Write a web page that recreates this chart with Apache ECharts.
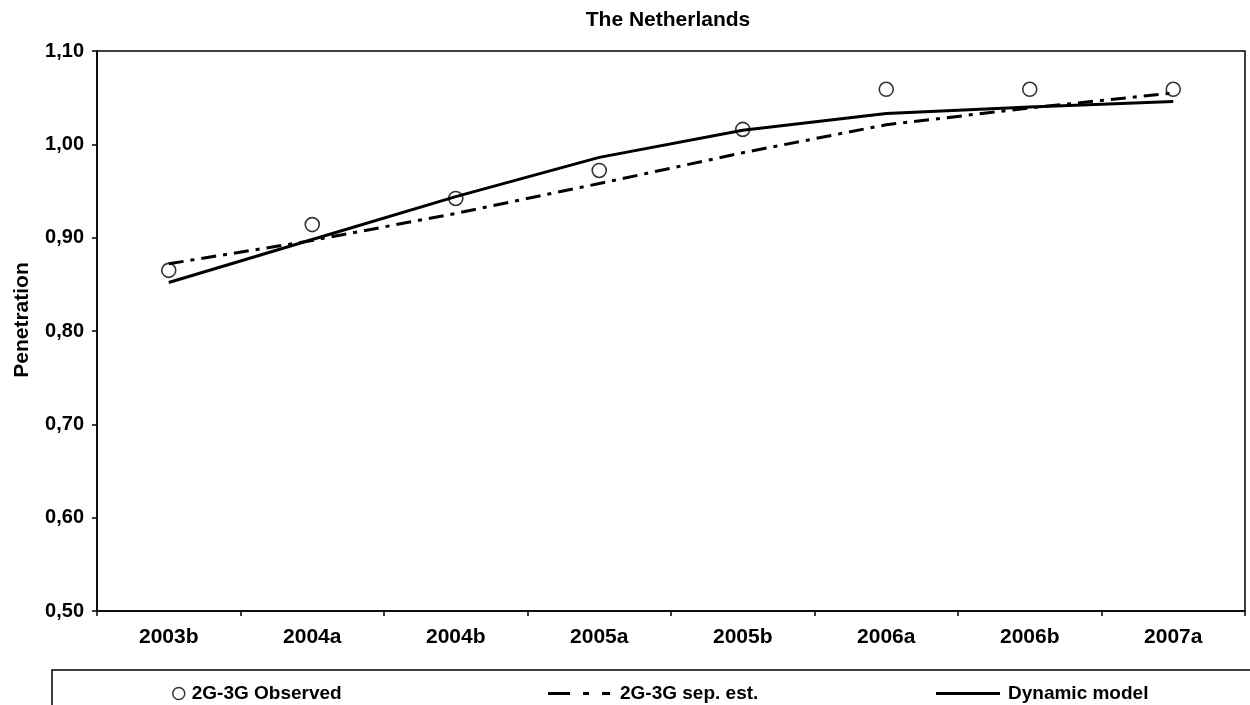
<!DOCTYPE html>
<html><head><meta charset="utf-8">
<script src="https://cdn.jsdelivr.net/npm/echarts@6/dist/echarts.min.js"></script>
<style>html,body{margin:0;padding:0;background:#fff}#c{width:1250px;height:705px}</style>
</head><body><div id="c"></div>
<script>
var categories = ['2003b','2004a','2004b','2005a','2005b','2006a','2006b','2007a'];
var observed = [0.865, 0.914, 0.942, 0.972, 1.016, 1.059, 1.059, 1.059];
var sepEst = [0.872, 0.897, 0.926, 0.958, 0.991, 1.021, 1.039, 1.055];
var dynamicModel = [0.852, 0.898, 0.944, 0.986, 1.015, 1.033, 1.040, 1.046];
var yTicks = {min: 0.5, max: 1.1, interval: 0.1};

var FONT = '"Liberation Sans", Arial, sans-serif';
var chart = echarts.init(document.getElementById('c'), null, {renderer: 'canvas'});
var legendText = {color: '#000', fontFamily: FONT, fontWeight: 'bold', fontSize: 19};
chart.setOption({
  animation: false,
  backgroundColor: '#fff',
  title: {text: 'The Netherlands', left: 663, top: 5, textAlign: 'center',
    textStyle: {fontFamily: FONT, fontWeight: 'bold', fontSize: 21, color: '#000'}},
  grid: {left: 97, right: 5, top: 51, bottom: 94, show: true, borderColor: '#000', borderWidth: 1.5, backgroundColor: 'transparent'},
  xAxis: {type: 'category', data: categories, boundaryGap: true,
    axisLine: {lineStyle: {color: '#000', width: 1.5}},
    axisTick: {show: true, length: 5, lineStyle: {color: '#000', width: 1.5}},
    axisLabel: {color: '#000', fontFamily: FONT, fontWeight: 'bold', fontSize: 21, margin: 16},
    splitLine: {show: false}},
  yAxis: {type: 'value', min: yTicks.min, max: yTicks.max, interval: yTicks.interval,
    name: 'Penetration', nameLocation: 'middle', nameGap: 64, nameRotate: 90,
    nameTextStyle: {color: '#000', fontFamily: FONT, fontWeight: 'bold', fontSize: 21, padding: [0, 0, 0, 22]},
    axisLine: {show: true, lineStyle: {color: '#000', width: 1.5}},
    axisTick: {show: true, length: 5, lineStyle: {color: '#000', width: 1.5}},
    axisLabel: {color: '#000', fontFamily: FONT, fontWeight: 'bold', fontSize: 20, margin: 13,
      formatter: function (v) { return v.toFixed(2).replace('.', ','); }},
    splitLine: {show: false}},
  legend: [
    {data: [{name: '2G-3G Observed', icon: 'circle', itemStyle: {color: '#fff', borderColor: '#000', borderWidth: 1.5}}],
      left: 167, top: 679, itemWidth: 12, itemHeight: 12,
      textStyle: Object.assign({padding: [0, 0, 0, 2]}, legendText)},
    {data: [{name: '2G-3G sep. est.', icon: 'path://M0,0H22V3H0Z M35,0H41V3H35Z M54,0H62V3H54Z', itemStyle: {color: '#000'}}],
      left: 543, top: 679, itemWidth: 62, itemHeight: 3, symbolKeepAspect: false,
      textStyle: Object.assign({padding: [0, 0, 0, 5]}, legendText)},
    {data: [{name: 'Dynamic model', icon: 'path://M0,0H64V3H0Z', itemStyle: {color: '#000'}}],
      left: 931, top: 679, itemWidth: 64, itemHeight: 3, symbolKeepAspect: false,
      textStyle: Object.assign({padding: [0, 0, 0, 3]}, legendText)}
  ],
  graphic: [{type: 'rect', shape: {x: 52, y: 670, width: 1250, height: 60},
    style: {fill: 'none', stroke: '#000', lineWidth: 1.5}, z: -1}],
  series: [
    {name: '2G-3G sep. est.', type: 'line', data: sepEst, showSymbol: false, symbol: 'none', smooth: false,
      lineStyle: {color: '#000', width: 3, type: [15, 7, 4, 7]}, itemStyle: {color: '#000'}, z: 2},
    {name: 'Dynamic model', type: 'line', data: dynamicModel, showSymbol: false, symbol: 'none', smooth: false,
      lineStyle: {color: '#000', width: 3}, itemStyle: {color: '#000'}, z: 3},
    {name: '2G-3G Observed', type: 'scatter', data: observed, symbol: 'circle', symbolSize: 14,
      itemStyle: {color: 'rgba(255,255,255,0)', borderColor: '#000', borderWidth: 1.6}, z: 4}
  ]
});
</script></body></html>
